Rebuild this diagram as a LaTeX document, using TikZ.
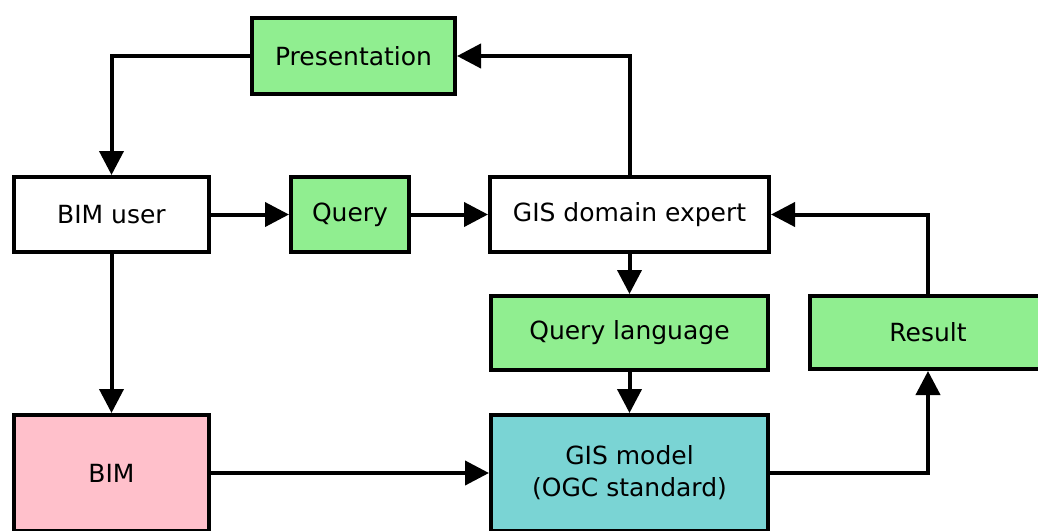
\documentclass[tikz,border=0pt]{standalone}
\usepackage{fontspec}
\setmainfont{DejaVu Sans}
\usetikzlibrary{arrows.meta}
\definecolor{boxgreen}{RGB}{144,238,144}
\definecolor{boxpink}{RGB}{255,192,203}
\definecolor{boxcyan}{RGB}{122,212,212}
\tikzset{
  box/.style={draw=black, line width=4pt, inner sep=0pt, align=center,
    font=\fontsize{25}{32}\selectfont},
  conn/.style={line width=4pt, -{Triangle[length=24pt,width=24pt]}},
}
\begin{document}
\begin{tikzpicture}[x=1pt,y=-1pt]
\useasboundingbox (0,0) rectangle (1038,530);
\node[box, fill=boxgreen, minimum width=203pt, minimum height=76pt] (pres) at (353.5,56) {Presentation};
\node[box, fill=white, minimum width=195pt, minimum height=75pt] (user) at (111.5,214.5) {BIM user};
\node[box, fill=boxgreen, minimum width=118pt, minimum height=75pt] (query) at (350,214.5) {Query};
\node[box, fill=white, minimum width=279pt, minimum height=75pt] (expert) at (629.5,214.5) {GIS domain expert};
\node[box, fill=boxgreen, minimum width=277pt, minimum height=74pt] (qlang) at (629.5,333) {Query language};
\node[box, fill=boxgreen, minimum width=236pt, minimum height=73pt] (result) at (928,332.5) {Result};
\node[box, fill=boxpink, minimum width=195pt, minimum height=116pt] (bim) at (111.5,473) {BIM};
\node[box, fill=boxcyan, minimum width=277pt, minimum height=116pt] (gis) at (629.5,473) {GIS model\\(OGC standard)};
\draw[conn] (pres.west) -| (user.north);
\draw[conn] (expert.north) |- (pres.east);
\draw[conn] (user) -- (query);
\draw[conn] (query) -- (expert);
\draw[conn] (expert) -- (qlang);
\draw[conn] (qlang) -- (gis);
\draw[conn] (user) -- (bim);
\draw[conn] (bim) -- (gis);
\draw[conn] (gis.east) -| (result.south);
\draw[conn] (result.north) |- (expert.east);
\end{tikzpicture}
\end{document}
